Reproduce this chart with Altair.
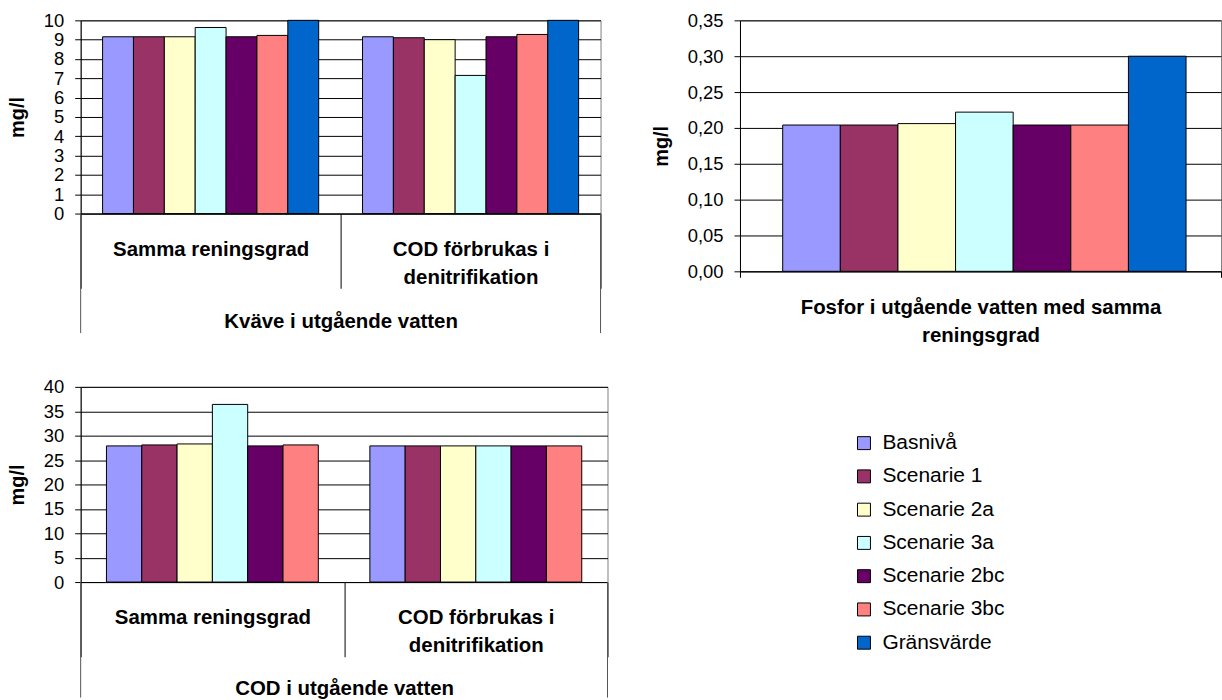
import altair as alt
import pandas as pd

# Series shared by all three panels
series = ["Basnivå", "Scenarie 1", "Scenarie 2a", "Scenarie 3a",
          "Scenarie 2bc", "Scenarie 3bc", "Gränsvärde"]
colors = ["#9999FF", "#993366", "#FFFFCC", "#CCFFFF", "#660066", "#FF8080", "#0066CC"]

# Nitrogen in effluent (mg/l)
kvave_groups = ["Samma reningsgrad", "COD förbrukas i|denitrifikation"]
kvave_samma = [9.15, 9.15, 9.15, 9.63, 9.15, 9.22, 10.0]
kvave_cod = [9.15, 9.10, 9.00, 7.15, 9.15, 9.27, 10.0]

# Phosphorus in effluent (mg/l)
fosfor_group = ["Fosfor i utgående vatten med samma|reningsgrad"]
fosfor = [0.204, 0.204, 0.206, 0.222, 0.204, 0.204, 0.300]

# COD in effluent (mg/l), no limit value
cod_series = series[:6]
cod_groups = ["Samma reningsgrad", "COD förbrukas i|denitrifikation"]
cod_samma = [27.9, 28.1, 28.3, 36.4, 27.9, 28.1]
cod_cod = [27.9, 27.9, 27.9, 27.9, 27.9, 27.9]

FONT = "Liberation Sans"

kv_df = pd.DataFrame({
    "grupp": [kvave_groups[0]] * 7 + [kvave_groups[1]] * 7,
    "serie": series + series,
    "varde": kvave_samma + kvave_cod,
})
fo_df = pd.DataFrame({"grupp": fosfor_group * 7, "serie": series, "varde": fosfor})
cod_df = pd.DataFrame({
    "grupp": [cod_groups[0]] * 6 + [cod_groups[1]] * 6,
    "serie": cod_series + cod_series,
    "varde": cod_samma + cod_cod,
})

color_scale = alt.Scale(domain=series, range=colors)


def y_axis(values, label_expr=None):
    kw = dict(values=values, title="mg/l", titleFontSize=20, titleFontWeight="bold",
              titlePadding=16, labelFontSize=18.5, labelPadding=11, tickSize=6,
              grid=True, gridColor="#000000", tickColor="#000000",
              domainColor="#000000")
    if label_expr:
        kw["labelExpr"] = label_expr
    return alt.Axis(**kw)


def group_axis(tick_size, label_pad, title=None, title_y=None):
    kw = dict(labelExpr="split(datum.label, '|')", labelAngle=0, labelFontSize=20.5,
              labelFontWeight="bold", labelLineHeight=28, labelPadding=label_pad,
              labelBaseline="top", labelLimit=600, labelOverlap=False,
              tickBand="extent", tickSize=tick_size, tickColor="#000000",
              domainColor="#000000", grid=False, title=title)
    if title is not None:
        kw.update(titleY=title_y, titleBaseline="middle", titleFontSize=20.5,
                  titleFontWeight="bold")
    return alt.Axis(**kw)


def outer_lines(w, h, length):
    dummy = pd.DataFrame({"k": [0]})
    left = alt.Chart(dummy).mark_rule(color="#555555").encode(
        x=alt.value(0), y=alt.value(h), y2=alt.value(h + length))
    right = alt.Chart(dummy).mark_rule(color="#555555").encode(
        x=alt.value(w), y=alt.value(h), y2=alt.value(h + length))
    return left + right


# Nitrogen panel
KW, KH = 522, 194
kv_bars = alt.Chart(kv_df).mark_bar(stroke="#000000", strokeWidth=1).encode(
    x=alt.X("grupp:N", sort=kvave_groups,
            scale=alt.Scale(paddingInner=0, paddingOuter=0),
            axis=group_axis(75, -49, "Kväve i utgående vatten", 108)),
    xOffset=alt.XOffset("serie:N", sort=series,
                        scale=alt.Scale(paddingInner=0, paddingOuter=0.71)),
    y=alt.Y("varde:Q", scale=alt.Scale(domain=[0, 10], nice=False),
            axis=y_axis(list(range(0, 11)))),
    fill=alt.Fill("serie:N", scale=color_scale, legend=None),
)
kvave = alt.layer(kv_bars, outer_lines(KW, KH, 120)).properties(width=KW, height=KH)

# Phosphorus panel
FW, FH = 483, 252
fosfor_chart = alt.Chart(fo_df).mark_bar(stroke="#000000", strokeWidth=1).encode(
    x=alt.X("grupp:N", scale=alt.Scale(paddingInner=0, paddingOuter=0),
            axis=group_axis(6, 20)),
    xOffset=alt.XOffset("serie:N", sort=series,
                        scale=alt.Scale(paddingInner=0, paddingOuter=0.674, align=0.55)),
    y=alt.Y("varde:Q", scale=alt.Scale(domain=[0, 0.35], nice=False),
            axis=y_axis([0, 0.05, 0.1, 0.15, 0.2, 0.25, 0.3, 0.35],
                        "replace(format(datum.value, '.2f'), '.', ',')")),
    fill=alt.Fill("serie:N", scale=color_scale, legend=None),
).properties(width=FW, height=FH)

# COD panel, carrying the legend
CW, CH = 529, 196
cod_bars = alt.Chart(cod_df).mark_bar(stroke="#000000", strokeWidth=1).encode(
    x=alt.X("grupp:N", sort=cod_groups,
            scale=alt.Scale(paddingInner=0, paddingOuter=0),
            axis=group_axis(75, -49, "COD i utgående vatten", 107)),
    xOffset=alt.XOffset("serie:N", sort=cod_series,
                        scale=alt.Scale(paddingInner=0, paddingOuter=0.73)),
    y=alt.Y("varde:Q", scale=alt.Scale(domain=[0, 40], nice=False),
            axis=y_axis(list(range(0, 41, 5)))),
    fill=alt.Fill("serie:N", scale=color_scale,
                  legend=alt.Legend(orient="none", legendX=776, legendY=46, title=None,
                                    symbolType="square", symbolSize=169,
                                    symbolStrokeColor="#000000", symbolStrokeWidth=1,
                                    symbolOpacity=1, labelFontSize=21, labelOffset=8,
                                    rowPadding=11.4, labelColor="#000000")),
)
cod = alt.layer(cod_bars, outer_lines(CW, CH, 116)).properties(width=CW, height=CH)

top = alt.hconcat(kvave, fosfor_chart, spacing=49).resolve_legend(
    fill="independent").resolve_scale(fill="independent", xOffset="independent")
chart = alt.vconcat(top, cod, spacing=31).resolve_legend(
    fill="independent").resolve_scale(fill="independent", xOffset="independent").properties(
    padding={"left": 6, "top": 9, "right": 0, "bottom": 0},
    background="#FFFFFF",
).configure(font=FONT).configure_view(
    stroke="#808080", strokeWidth=1
).configure_axis(
    labelColor="#000000", titleColor="#000000", labelFont=FONT, titleFont=FONT
).configure_legend(labelFont=FONT)

chart.save("out.html", embed_options={"renderer": "svg", "actions": False})
